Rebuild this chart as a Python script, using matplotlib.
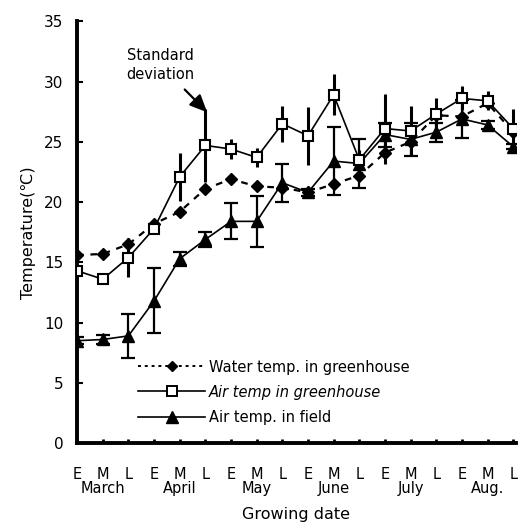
import numpy as np
import matplotlib.pyplot as plt
from matplotlib.lines import Line2D
from matplotlib.transforms import blended_transform_factory

# data (Early / Mid / Late of each month)
period = ["E", "M", "L"] * 6
months = ["March", "April", "May", "June", "July", "Aug."]

water = [15.6, 15.7, 16.5, 18.2, 19.2, 21.1, 21.9, 21.3, 21.2, 20.8, 21.5, 22.2,
         24.1, 25.0, 27.2, 27.1, 28.2, 25.8]
greenhouse = [14.3, 13.6, 15.4, 17.8, 22.1, 24.7, 24.4, 23.7, 26.5, 25.5, 28.9, 23.5,
              26.1, 25.9, 27.3, 28.6, 28.4, 26.1]
greenhouse_sd = [0.3, 0.3, 1.6, 0.4, 2.0, 3.0, 0.8, 0.8, 1.5, 2.4, 1.7, 0.8,
                 2.9, 2.1, 1.3, 1.0, 0.8, 1.6]
field = [8.5, 8.6, 8.9, 11.8, 15.3, 16.9, 18.4, 18.4, 21.6, 20.8, 23.4, 23.2,
         25.6, 25.2, 25.8, 26.9, 26.4, 24.6]
field_sd = [0.3, 0.4, 1.8, 2.7, 0.6, 0.6, 1.5, 2.1, 1.6, 0.3, 2.8, 2.0,
            1.0, 1.4, 0.8, 1.6, 0.3, 0.2]

x = np.arange(len(period))

fig = plt.figure(figsize=(5.21, 5.32), dpi=100)
ax = fig.add_axes([0.148, 0.167, 0.842, 0.793])

# greenhouse sd bars (dotted look)
ax.errorbar(x, greenhouse, yerr=greenhouse_sd, fmt="none", ecolor="black",
            elinewidth=2.2, capsize=0, linestyle=(0, (1, 1)), zorder=2)
# field sd bars with caps
ax.errorbar(x, field, yerr=field_sd, fmt="none", ecolor="black",
            elinewidth=1.6, capsize=5, capthick=1.6, zorder=2)

ax.plot(x, water, color="black", linestyle=(0, (3, 3)), linewidth=1.6,
        marker="D", markersize=6, zorder=3)
ax.plot(x, greenhouse, color="black", linewidth=1.2, marker="s", markersize=7,
        markerfacecolor="white", markeredgewidth=1.5, zorder=4)
ax.plot(x, field, color="black", linewidth=1.2, marker="^", markersize=8, zorder=3)

ax.set_xlim(0, 17.1)
ax.set_ylim(0, 35)
ax.spines["top"].set_visible(False)
ax.spines["right"].set_visible(False)
ax.spines["left"].set_linewidth(2.8)
ax.spines["bottom"].set_linewidth(2.8)

ax.set_yticks(np.arange(0, 36, 5))
ax.tick_params(axis="y", direction="in", length=4, width=1.5, labelsize=11, pad=10)
ax.set_xticks(x)
ax.set_xticklabels(period)
ax.tick_params(axis="x", direction="in", length=3, width=2, labelsize=10.5, pad=17)

trans = blended_transform_factory(ax.transData, ax.transAxes)
for i, m in enumerate(months):
    ax.text(3 * i + 1, -0.107, m, transform=trans, ha="center", va="center",
            fontsize=10.5)

ax.set_xlabel("Growing date", fontsize=11.5, labelpad=18)
ax.set_ylabel("Temperature(\u2103)", fontsize=11.5, labelpad=6)

handles = [
    Line2D([], [], color="black", linestyle=(0, (1.5, 2)), linewidth=1.4,
           marker="D", markersize=5.5),
    Line2D([], [], color="black", linewidth=1.2, marker="s", markersize=6.5,
           markerfacecolor="white", markeredgewidth=1.4),
    Line2D([], [], color="black", linewidth=1.2, marker="^", markersize=8),
]
leg = ax.legend(handles, ["Water temp. in greenhouse", "Air temp in greenhouse",
                          "Air temp. in field"],
                loc="lower left", bbox_to_anchor=(0.126, 0.03), frameon=False,
                handlelength=4.6, handletextpad=0.25, labelspacing=0.69,
                fontsize=10.5, borderaxespad=0)
leg.get_texts()[1].set_style("italic")

ax.annotate("Standard\ndeviation", xy=(5.07, 27.45), xytext=(3.24, 31.4),
            ha="center", va="center", fontsize=10.5, linespacing=1.35,
            arrowprops=dict(arrowstyle="-|>,head_length=1.0,head_width=0.45",
                            color="black", linewidth=1.6,
                            shrinkA=5, shrinkB=0))

fig.savefig("out.png", dpi=100)
